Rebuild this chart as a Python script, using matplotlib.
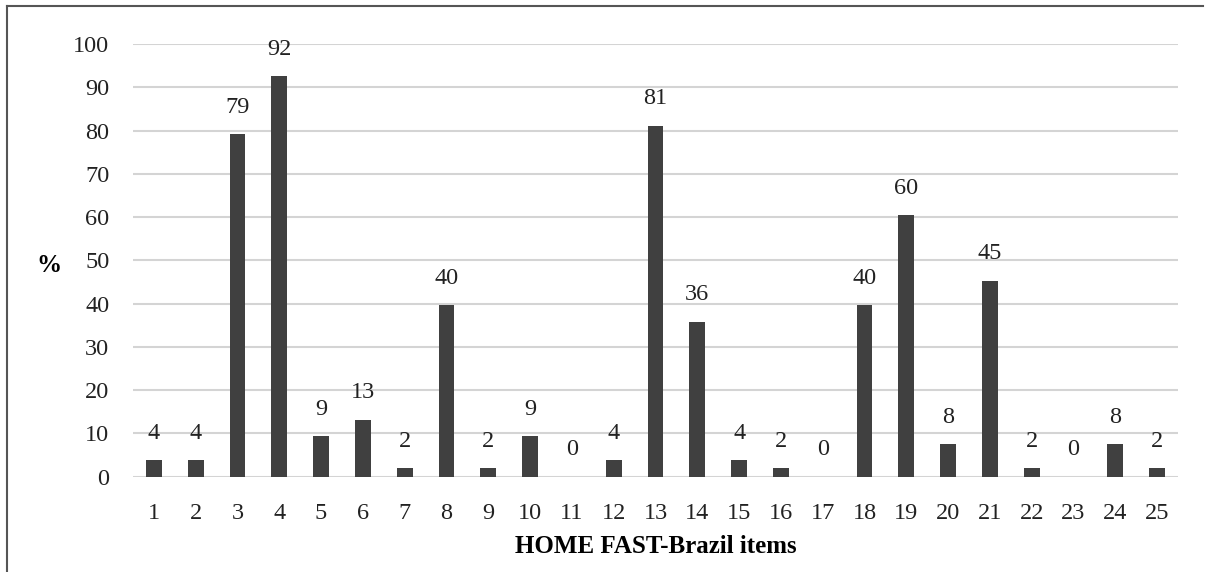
import matplotlib.pyplot as plt
import numpy as np

items = [str(i) for i in range(1, 26)]
pct = [3.8, 3.8, 79.2, 92.5, 9.4, 13.2, 1.9, 39.6, 1.9, 9.4, 0, 3.8, 81.1,
       35.8, 3.8, 1.9, 0, 39.6, 60.4, 7.5, 45.3, 1.9, 0, 7.5, 1.9]
labels = [4, 4, 79, 92, 9, 13, 2, 40, 2, 9, 0, 4, 81, 36, 4, 2, 0, 40, 60,
          8, 45, 2, 0, 8, 2]

plt.rcParams['font.family'] = ['Liberation Serif', 'DejaVu Serif']

fig = plt.figure(figsize=(12.13, 5.72), dpi=100)
ax = fig.add_axes([0.1096, 0.1666, 0.8616, 0.7565])

x = np.arange(len(items))
ax.bar(x, pct, width=0.38, color='#404040', zorder=3)
for xi, h, lab in zip(x, pct, labels):
    ax.text(xi, h + 3.8, str(lab), ha='center', va='bottom', fontsize=17.5,
            color='#222222')

ax.set_xlim(-0.5, len(items) - 0.5)
ax.set_ylim(0, 100)
ax.set_yticks(range(0, 101, 10))
ax.set_xticks(x)
ax.set_xticklabels(items)
ax.grid(axis='y', color='#d4d4d4', linewidth=1.5, zorder=0)
ax.tick_params(length=0, labelsize=17.5, colors='#222222')
ax.tick_params(axis='y', pad=17)
ax.tick_params(axis='x', pad=19)
for s in ax.spines.values():
    s.set_visible(False)

ax.set_xlabel('HOME FAST-Brazil items', fontsize=18, fontweight='bold',
              labelpad=8)
fig.text(0.040, 0.535, '%', fontsize=18, fontweight='bold', ha='center',
         va='center')

# frame around the figure (left and top edges visible)
fig.add_artist(plt.Line2D([0.0058, 0.0058], [0, 0.9895], color='#555555',
                          linewidth=1.5, transform=fig.transFigure))
fig.add_artist(plt.Line2D([0.0058, 0.992], [0.9895, 0.9895], color='#555555',
                          linewidth=1.5, transform=fig.transFigure))

fig.savefig('out.png', dpi=100)
